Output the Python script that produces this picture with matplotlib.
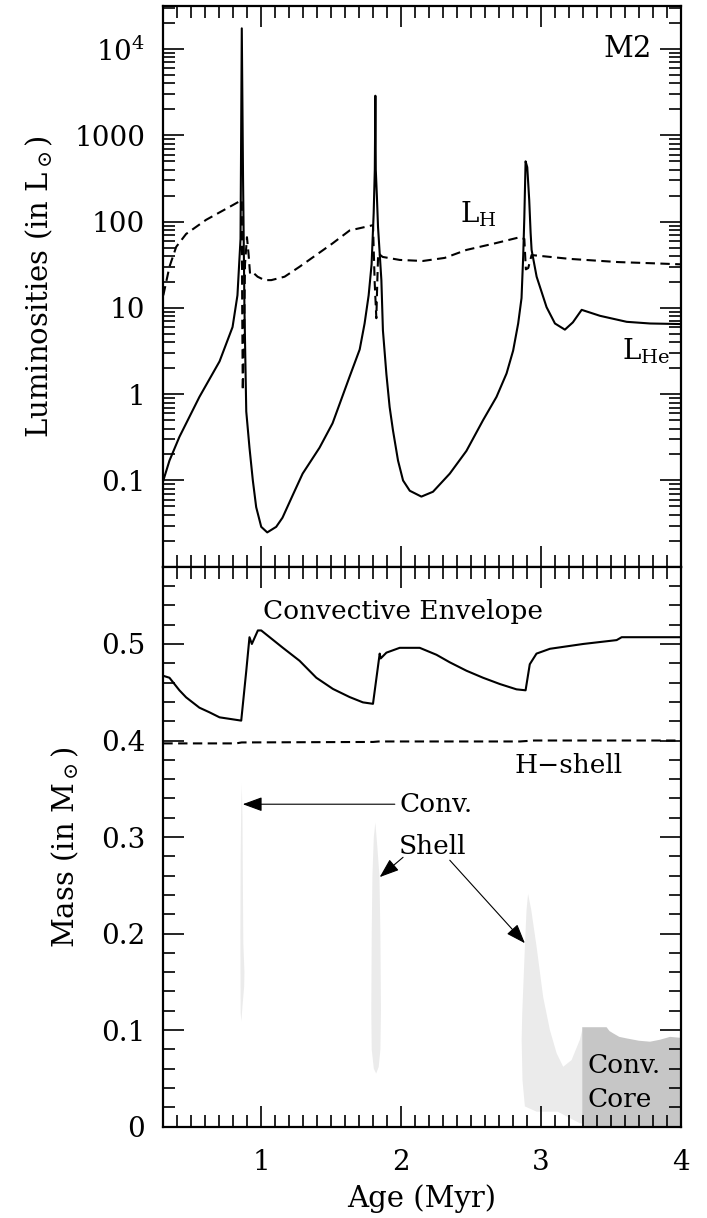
import numpy as np
import matplotlib
matplotlib.use("Agg")
import matplotlib.pyplot as plt
from matplotlib.ticker import MultipleLocator, LogLocator, FixedLocator, NullFormatter

plt.rcParams['font.family'] = ['DejaVu Serif']
plt.rcParams['mathtext.fontset'] = 'dejavuserif'

# ---- Luminosity evolution (L_sun) ----
age_he = [0.30, 0.344, 0.415, 0.558, 0.702, 0.795, 0.830, 0.852, 0.861, 0.870, 0.880,
          0.893, 0.916, 0.940, 0.964, 1.000, 1.043, 1.107, 1.152, 1.226, 1.296, 1.417,
          1.510, 1.632, 1.704, 1.739,
          1.768, 1.789, 1.804, 1.812, 1.816, 1.819, 1.827, 1.835, 1.859, 1.870, 1.895,
          1.918, 1.942, 1.978, 2.014, 2.062, 2.145, 2.228, 2.348, 2.467, 2.586, 2.682,
          2.754, 2.801, 2.837, 2.861, 2.873,
          2.881, 2.890, 2.902, 2.916, 2.926, 2.933, 2.969, 3.040, 3.100, 3.171, 3.228,
          3.291, 3.422, 3.613, 3.780, 4.000]
lum_he = [0.10, 0.17, 0.32, 0.93, 2.4, 6.0, 14, 63, 17400, 316, 10,
          0.63, 0.24, 0.10, 0.049, 0.029, 0.025, 0.029, 0.037, 0.068, 0.12, 0.24,
          0.46, 1.6, 3.3, 6.6,
          14, 32, 126, 400, 2880, 400, 195, 87, 21, 5.5, 1.7,
          0.71, 0.38, 0.17, 0.10, 0.076, 0.065, 0.074, 0.12, 0.22, 0.50, 0.93,
          1.74, 3.2, 6.6, 13, 40,
          112, 500, 427, 178, 74, 47, 23, 10.2, 6.6, 5.6, 6.8,
          9.5, 8.1, 6.9, 6.6, 6.5]

age_h = [0.30, 0.344, 0.392, 0.463, 0.606, 0.795, 0.861, 0.864, 0.868, 0.877, 0.884,
         0.898, 0.909, 0.920, 0.938, 0.974, 1.024, 1.072, 1.167, 1.274, 1.510, 1.632,
         1.799, 1.811, 1.823, 1.829, 1.836, 1.868, 1.990, 2.155, 2.312, 2.467, 2.670,
         2.849, 2.881, 2.892, 2.909, 2.933, 3.207, 3.551, 3.780, 4.000]
lum_h = [14, 30, 51, 72, 105, 155, 178, 10, 1.1, 4, 32,
         66, 43, 25, 26, 23, 21, 21, 23, 30, 56, 79,
         91, 20, 7.6, 18, 43, 39, 36, 35, 38, 47, 56,
         66, 63, 28, 29, 41, 37, 34, 33, 32]

# ---- Mass coordinates (M_sun) ----
age_env = [0.30, 0.344, 0.415, 0.463, 0.558, 0.630, 0.702, 0.857, 0.893, 0.916, 0.933,
           0.976, 1.000, 1.155, 1.274, 1.394, 1.513, 1.632, 1.727, 1.799, 1.847, 1.854,
           1.895, 1.990, 2.133, 2.253, 2.348, 2.467, 2.586, 2.706, 2.825, 2.890, 2.920,
           2.968, 3.064, 3.302, 3.541, 3.577, 4.000]
mass_env = [0.467, 0.465, 0.452, 0.4447, 0.434, 0.4292, 0.424, 0.4206, 0.472, 0.507, 0.500,
            0.514, 0.514, 0.496, 0.4826, 0.465, 0.4534, 0.445, 0.4395, 0.438, 0.490, 0.485,
            0.491, 0.496, 0.496, 0.4888, 0.481, 0.4723, 0.465, 0.4585, 0.453, 0.452, 0.479,
            0.490, 0.495, 0.500, 0.504, 0.507, 0.507]

age_hshell = [0.30, 0.82, 0.86, 1.80, 1.84, 2.85, 2.95, 4.00]
mass_hshell = [0.397, 0.397, 0.398, 0.3985, 0.399, 0.399, 0.400, 0.400]

# convective shell outlines (age, mass)
shell1_age = [0.861, 0.866, 0.869, 0.872, 0.880, 0.878, 0.866, 0.858, 0.853, 0.852, 0.851, 0.853, 0.857]
shell1_mass = [0.355, 0.32, 0.25, 0.19, 0.16, 0.145, 0.125, 0.109, 0.118, 0.15, 0.20, 0.28, 0.33]

shell2_age = [1.816, 1.830, 1.845, 1.852, 1.856, 1.852, 1.840, 1.822, 1.805, 1.790, 1.787, 1.790, 1.795, 1.805]
shell2_mass = [0.315, 0.29, 0.26, 0.20, 0.12, 0.08, 0.062, 0.055, 0.06, 0.08, 0.12, 0.20, 0.26, 0.30]

shell3_age = [2.908, 2.930, 2.969, 3.016, 3.064, 3.112, 3.159, 3.219, 3.278, 3.295, 3.295,
              3.278, 3.120, 2.969, 2.885, 2.868, 2.862, 2.866, 2.885, 2.897]
shell3_mass = [0.241, 0.225, 0.186, 0.134, 0.100, 0.076, 0.062, 0.069, 0.090, 0.100, 0.003,
               0.0035, 0.0155, 0.0155, 0.021, 0.048, 0.09, 0.117, 0.186, 0.225]

core_age = [3.295, 3.295, 3.469, 3.49, 3.517, 3.56, 3.613, 3.70, 3.78, 3.85, 3.923, 4.0, 4.0]
core_mass = [0.0, 0.103, 0.103, 0.099, 0.0966, 0.093, 0.0914, 0.089, 0.088, 0.090, 0.093, 0.092, 0.0]

lum_ticks = [0.1, 1, 10, 100, 1000, 1e4]
lum_labels = ['0.1', '1', '10', '100', '1000', '$10^4$']
mass_ticks = [0, 0.1, 0.2, 0.3, 0.4, 0.5]
mass_labels = ['0', '0.1', '0.2', '0.3', '0.4', '0.5']
age_ticks = [1, 2, 3, 4]
age_labels = ['1', '2', '3', '4']

FS = 20
fig = plt.figure(figsize=(7.07, 12.18), dpi=100)
ax1 = fig.add_axes([0.231, 0.5347, 0.732, 0.4604])
ax2 = fig.add_axes([0.231, 0.075, 0.732, 0.4597])

for ax in (ax1, ax2):
    for sp in ax.spines.values():
        sp.set_linewidth(1.6)
    ax.set_xlim(0.3, 4.0)
    ax.xaxis.set_major_locator(FixedLocator(age_ticks))
    ax.xaxis.set_minor_locator(MultipleLocator(0.1))
    ax.tick_params(which='both', direction='in', top=True, right=True, width=1.2)
    ax.tick_params(which='major', length=15, labelsize=FS, pad=13)
    ax.tick_params(which='minor', length=8.5)

# ---- top panel: luminosities ----
ax1.set_yscale('log')
ax1.set_ylim(0.01, 10 ** 4.5)
ax1.plot(age_he, lum_he, color='k', lw=1.5, solid_joinstyle='round')
ax1.plot(age_h, lum_h, color='k', lw=1.5, linestyle=(0, (4.5, 2.6)))
ax1.yaxis.set_major_locator(FixedLocator(lum_ticks))
ax1.set_yticklabels(lum_labels)
ax1.yaxis.set_minor_locator(LogLocator(base=10, subs=np.arange(2, 10), numticks=50))
ax1.yaxis.set_minor_formatter(NullFormatter())
ax1.tick_params(axis='x', labelbottom=False)
ax1.set_ylabel(r'Luminosities (in L$_\odot$)', fontsize=21, labelpad=14)
ax1.text(3.79, 10 ** 4.0, 'M2', fontsize=21, ha='right', va='center')
ax1.text(2.42, 10 ** 2.08, r'L$_{\rm H}$', fontsize=FS, ha='left', va='center')
ax1.text(3.577, 10 ** 0.50, r'L$_{\rm He}$', fontsize=FS, ha='left', va='center')

# ---- bottom panel: mass coordinates ----
ax2.set_ylim(0, 0.58)
ax2.fill(shell1_age, shell1_mass, color='#ebebeb', lw=0, zorder=1)
ax2.fill(shell2_age, shell2_mass, color='#ebebeb', lw=0, zorder=1)
ax2.fill(shell3_age, shell3_mass, color='#ebebeb', lw=0, zorder=1)
ax2.fill(core_age, core_mass, color='#c6c6c6', lw=0, zorder=1)
ax2.plot(age_env, mass_env, color='k', lw=1.5, zorder=3)
ax2.plot(age_hshell, mass_hshell, color='k', lw=1.5, linestyle=(0, (4.5, 2.6)), zorder=3)
ax2.yaxis.set_major_locator(FixedLocator(mass_ticks))
ax2.set_yticklabels(mass_labels)
ax2.yaxis.set_minor_locator(MultipleLocator(0.02))
ax2.set_xticklabels(age_labels)
ax2.tick_params(axis='x', pad=16)
ax2.set_ylabel(r'Mass (in M$_\odot$)', fontsize=21, labelpad=14)
ax2.set_xlabel('Age (Myr)', fontsize=21, labelpad=6)

TFS = 19
ax2.text(1.01, 0.534, 'Convective Envelope', fontsize=TFS, ha='left', va='center')
ax2.text(2.813, 0.374, 'H\u2212shell', fontsize=TFS, ha='left', va='center')
ax2.text(1.985, 0.334, 'Conv.', fontsize=TFS, ha='left', va='center')
ax2.text(1.985, 0.290, 'Shell', fontsize=TFS, ha='left', va='center')
ax2.text(3.33, 0.063, 'Conv.', fontsize=TFS, ha='left', va='center', zorder=4)
ax2.text(3.33, 0.028, 'Core', fontsize=TFS, ha='left', va='center', zorder=4)

arrow = dict(arrowstyle='-|>,head_length=0.6,head_width=0.22', color='k', lw=0.8,
             mutation_scale=20, shrinkA=0, shrinkB=0)
ax2.annotate('', xy=(0.868, 0.334), xytext=(1.955, 0.334), arrowprops=arrow)
ax2.annotate('', xy=(1.847, 0.2585), xytext=(2.014, 0.279), arrowprops=arrow)
ax2.annotate('', xy=(2.885, 0.190), xytext=(2.348, 0.276), arrowprops=arrow)

fig.savefig('out.png', dpi=100)
